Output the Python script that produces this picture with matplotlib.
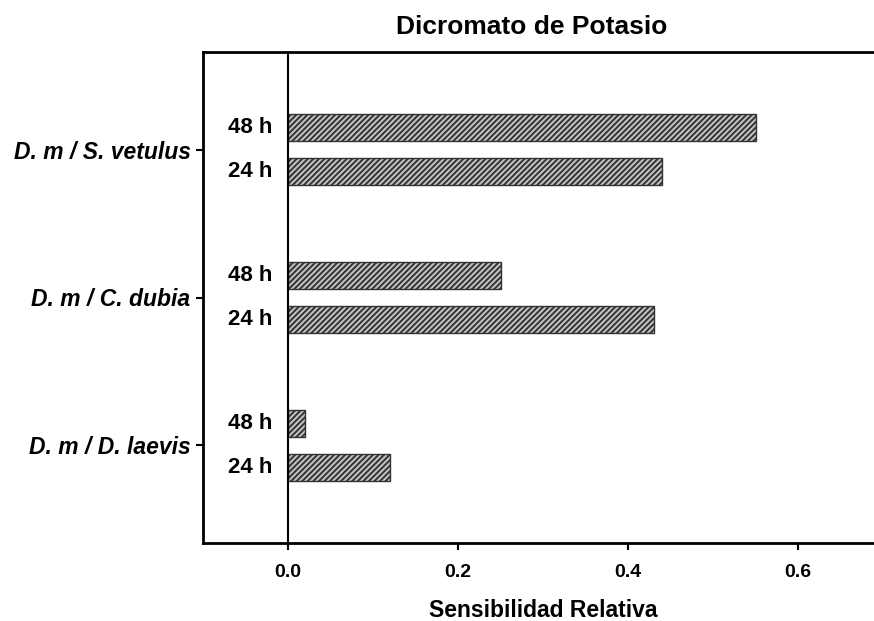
import matplotlib
matplotlib.use("Agg")
import matplotlib.pyplot as plt
import numpy as np

plt.rcParams['font.family'] = ['Liberation Sans', 'DejaVu Sans']
plt.rcParams['hatch.linewidth'] = 1.4
plt.rcParams['hatch.color'] = '#2a2a2a'

groups = ["D. m / S. vetulus", "D. m / C. dubia", "D. m / D. laevis"]
hours = ["48 h", "24 h"]
values_48h = [0.55, 0.25, 0.02]
values_24h = [0.44, 0.43, 0.12]
x_ticks = [0.0, 0.2, 0.4, 0.6]

fig = plt.figure(figsize=(8.74, 6.21), dpi=100)
# axes runs past the right edge of the figure
ax = fig.add_axes([203 / 874, 1 - 543 / 621, (883 - 203) / 874, (543 - 52) / 621])

centers = np.arange(len(groups))
offset = 0.149
height = 0.185
bar_kw = dict(height=height, color='#c4c4c4', edgecolor='#333333', linewidth=1.0, hatch='//////')
ax.barh(centers - offset, values_48h, **bar_kw)
ax.barh(centers + offset, values_24h, **bar_kw)

for c in centers:
    ax.text(-0.018, c - offset, hours[0], ha='right', va='center', fontsize=16, fontweight='bold')
    ax.text(-0.018, c + offset, hours[1], ha='right', va='center', fontsize=16, fontweight='bold')

ax.axvline(0, color='black', linewidth=1.5)

ax.set_xlim(-0.1, 0.7)
ax.set_ylim(2.66, -0.66)
ax.set_yticks(centers)
ax.set_yticklabels(groups, fontsize=16.5, fontweight='bold', style='italic')
ax.set_xticks(x_ticks)
ax.set_xticklabels([f"{t:.1f}" for t in x_ticks], fontsize=14, fontweight='bold')
ax.tick_params(axis='both', direction='out', length=5, width=1.5)
ax.tick_params(axis='x', pad=10)
ax.tick_params(axis='y', pad=4)

for s in ['left', 'top', 'bottom']:
    ax.spines[s].set_linewidth(2)
ax.spines['right'].set_visible(False)

ax.set_xlabel("Sensibilidad Relativa", fontsize=16.5, fontweight='bold', labelpad=13)
fig.text(532 / 874, 1 - 27 / 621, "Dicromato de Potasio", ha='center', va='center',
         fontsize=19, fontweight='bold')

fig.savefig("out.png", dpi=100)
